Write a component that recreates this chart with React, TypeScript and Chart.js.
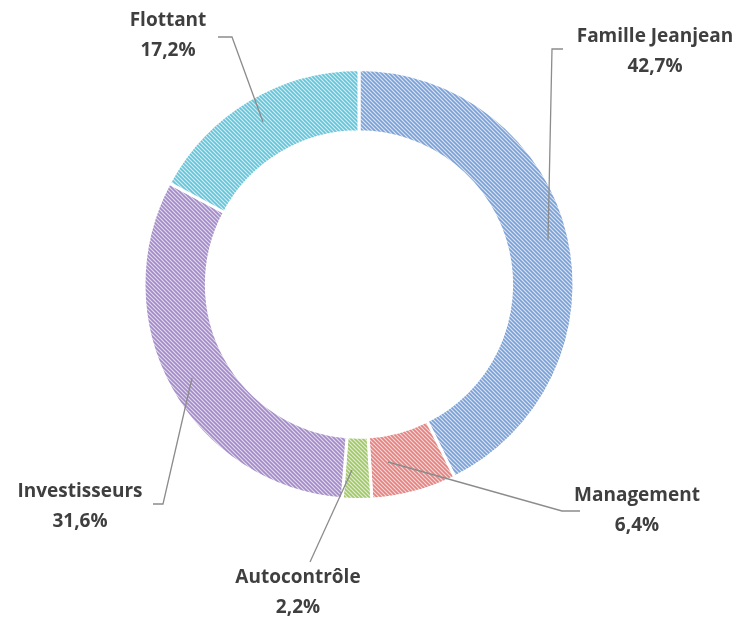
import React, { useEffect, useRef } from "react";
import { Chart, registerables } from "chart.js";

Chart.register(...registerables);

const categories = ["Famille Jeanjean", "Management", "Autocontrôle", "Investisseurs", "Flottant"];
const values = [42.7, 6.4, 2.2, 31.6, 17.2];
const valueLabels = ["42,7%", "6,4%", "2,2%", "31,6%", "17,2%"];
const darkColors = ["#7aa0d8", "#e3827f", "#a0c86a", "#a28bc8", "#66c4d8"];
const lightColors = ["#d8e3f4", "#f7d6d5", "#e0eecc", "#e1d8ed", "#cdeef5"];

function makePattern(dark: string, light: string): CanvasPattern | string {
  const c = document.createElement("canvas");
  const s = 4;
  c.width = s;
  c.height = s;
  const ctx = c.getContext("2d");
  if (!ctx) return dark;
  ctx.fillStyle = light;
  ctx.fillRect(0, 0, s, s);
  ctx.strokeStyle = dark;
  ctx.lineWidth = 1.6;
  ctx.beginPath();
  for (let k = -1; k <= 1; k++) {
    ctx.moveTo(k * s - 1, -1);
    ctx.lineTo(k * s + s + 1, s + 1);
  }
  ctx.stroke();
  const p = ctx.createPattern(c, "repeat");
  return p || dark;
}

// label placement (layout only)
const labelLayout = [
  { x: 655, y: 37, line: [[563, 49], [552, 49], [548, 240]] },
  { x: 637, y: 496, line: [[580, 511], [562, 511], [388, 462]] },
  { x: 298, y: 578, line: [[310, 562], [352, 470]] },
  { x: 80, y: 492, line: [[153, 504], [163, 504], [192, 378]] },
  { x: 168, y: 21, line: [[218, 37], [232, 37], [263, 122]] },
];

const labelPlugin = {
  id: "outerLabels",
  afterDraw(chart: any) {
    const ctx = chart.ctx;
    ctx.save();
    ctx.strokeStyle = "#8c8c8c";
    ctx.lineWidth = 1.3;
    labelLayout.forEach((l) => {
      ctx.beginPath();
      l.line.forEach((p, i) => (i === 0 ? ctx.moveTo(p[0], p[1]) : ctx.lineTo(p[0], p[1])));
      ctx.stroke();
    });
    ctx.fillStyle = "#3f3f3f";
    ctx.font = "bold 19px 'Open Sans', sans-serif";
    ctx.textAlign = "center";
    ctx.textBaseline = "middle";
    labelLayout.forEach((l, i) => {
      ctx.fillText(categories[i], l.x, l.y);
      ctx.fillText(valueLabels[i], l.x, l.y + 30);
    });
    ctx.restore();
  },
};

export default function App() {
  const ref = useRef<HTMLCanvasElement>(null);
  useEffect(() => {
    if (!ref.current) return;
    const patterns = values.map((_, i) => makePattern(darkColors[i], lightColors[i]));
    const chart = new Chart(ref.current, {
      type: "doughnut",
      data: {
        labels: categories,
        datasets: [
          {
            data: values,
            backgroundColor: patterns as any,
            borderColor: "#ffffff",
            borderWidth: 3,
          },
        ],
      },
      options: {
        responsive: false,
        animation: false,
        cutout: "71%",
        layout: { padding: { top: 68, bottom: 118, left: 142, right: 164 } },
        plugins: { legend: { display: false }, tooltip: { enabled: false } },
      },
      plugins: [labelPlugin],
    });
    return () => chart.destroy();
  }, []);
  return (
    <div style={{ position: "fixed", left: 0, top: 0, width: 740, height: 619, background: "#fff" }}>
      <canvas ref={ref} width={740} height={619} style={{ width: 740, height: 619 }} />
    </div>
  );
}
